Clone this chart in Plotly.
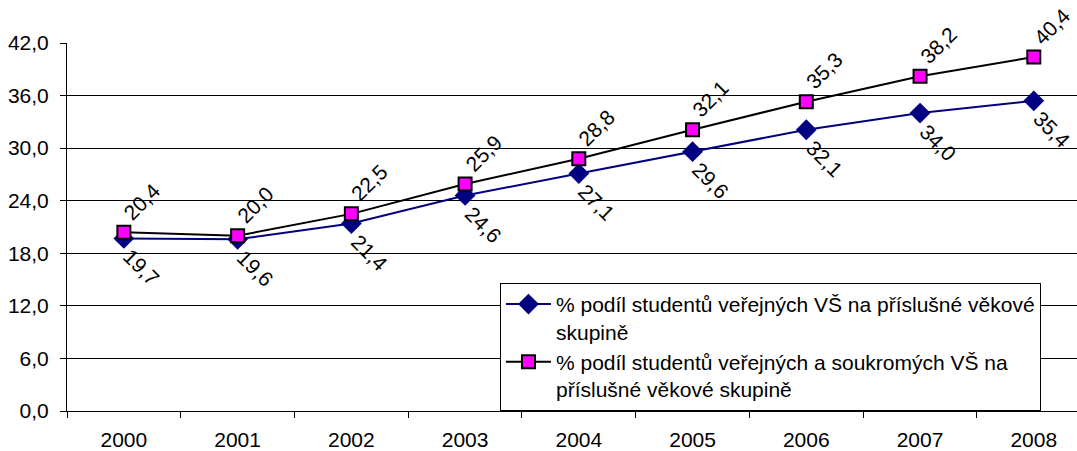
import plotly.graph_objects as go

years = ["2000", "2001", "2002", "2003", "2004", "2005", "2006", "2007", "2008"]
public_vs = [19.7, 19.6, 21.4, 24.6, 27.1, 29.6, 32.1, 34.0, 35.4]
all_vs = [20.4, 20.0, 22.5, 25.9, 28.8, 32.1, 35.3, 38.2, 40.4]
y_ticks = [0, 6, 12, 18, 24, 30, 36, 42]
name_public = "% podíl studentů veřejných VŠ na příslušné věkové<br>skupině"
name_all = "% podíl studentů veřejných a soukromých VŠ na<br>příslušné věkové skupině"

FONT = "Liberation Sans"
FS = 21

def fmt(v):
    return f"{v:.1f}".replace(".", ",")

fig = go.Figure()
fig.add_trace(go.Scatter(
    x=years, y=public_vs, name=name_public, mode="lines+markers",
    line=dict(color="#000080", width=2),
    marker=dict(symbol="diamond", size=16, color="#000080", line=dict(width=0)),
))
fig.add_trace(go.Scatter(
    x=years, y=all_vs, name=name_all, mode="lines+markers",
    line=dict(color="#000000", width=2),
    marker=dict(symbol="square", size=13, color="#FF00FF", line=dict(color="#000000", width=2)),
))

annotations = []
for i, v in enumerate(public_vs):
    annotations.append(dict(x=i, y=v, xref="x", yref="y", text=fmt(v), showarrow=False,
                            textangle=45, xanchor="center", yanchor="middle",
                            xshift=18, yshift=-29, font=dict(family=FONT, size=FS, color="#000000")))
for i, v in enumerate(all_vs):
    annotations.append(dict(x=i, y=v, xref="x", yref="y", text=fmt(v), showarrow=False,
                            textangle=-45, xanchor="center", yanchor="middle",
                            xshift=18, yshift=31, font=dict(family=FONT, size=FS, color="#000000")))

fig.update_layout(
    width=1077, height=451,
    margin=dict(l=67, r=0, t=43, b=40),
    paper_bgcolor="white", plot_bgcolor="white",
    font=dict(family=FONT, size=FS, color="#000000"),
    showlegend=True,
    legend=dict(
        x=0.4287, y=0.348, xanchor="left", yanchor="top",
        bordercolor="#000000", borderwidth=1, bgcolor="white",
        font=dict(family=FONT, size=FS, color="#000000"),
        valign="top", tracegroupgap=0, itemwidth=45,
    ),
    xaxis=dict(
        type="category", range=[-0.5, 8.38], automargin=False,
        showgrid=False, showline=True, linecolor="#000000", linewidth=1,
        ticks="outside", tickson="boundaries", ticklen=6, tickcolor="#000000",
        ticklabelstandoff=10,
        tickfont=dict(family=FONT, size=FS), zeroline=False,
    ),
    yaxis=dict(
        range=[0, 42], tickvals=y_ticks, ticktext=[fmt(t) for t in y_ticks], automargin=False,
        showgrid=True, gridcolor="#000000", gridwidth=1,
        showline=True, linecolor="#000000", linewidth=1,
        ticks="outside", ticklen=6, tickcolor="#000000",
        ticklabelstandoff=7,
        tickfont=dict(family=FONT, size=FS), zeroline=False,
    ),
    annotations=annotations,
)

fig.write_html("out.html", config={"displayModeBar": False},
               post_script="document.body.style.margin='0';document.body.style.overflow='hidden';")
